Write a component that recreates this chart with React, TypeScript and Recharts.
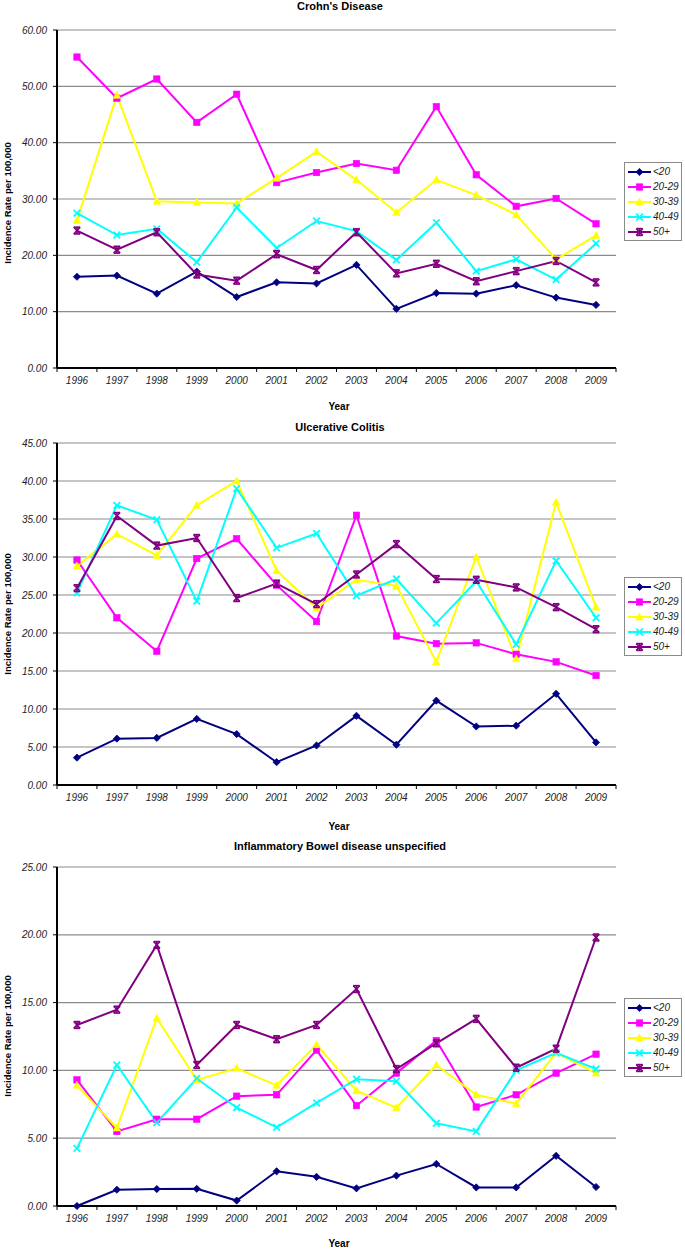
import React from 'react';
import { LineChart, Line, XAxis, YAxis, CartesianGrid, Legend } from 'recharts';

// ---------- data ----------
const years = ['1996', '1997', '1998', '1999', '2000', '2001', '2002', '2003', '2004', '2005', '2006', '2007', '2008', '2009'];
const seriesNames = ['<20', '20-29', '30-39', '40-49', '50+'];

const crohnU20 = [16.2, 16.4, 13.2, 17.1, 12.6, 15.2, 15.0, 18.3, 10.5, 13.3, 13.2, 14.7, 12.5, 11.2];
const crohn20 = [55.2, 47.9, 51.3, 43.6, 48.6, 32.9, 34.7, 36.3, 35.1, 46.4, 34.3, 28.7, 30.1, 25.6];
const crohn30 = [26.2, 48.4, 29.6, 29.4, 29.2, 33.7, 38.4, 33.4, 27.6, 33.4, 30.7, 27.2, 19.3, 23.5];
const crohn40 = [27.5, 23.6, 24.7, 18.8, 28.5, 21.3, 26.1, 24.3, 19.2, 25.8, 17.2, 19.3, 15.7, 22.1];
const crohn50 = [24.4, 21.0, 24.1, 16.6, 15.5, 20.2, 17.4, 24.1, 16.8, 18.5, 15.4, 17.2, 19.0, 15.2];

const ucU20 = [3.6, 6.1, 6.2, 8.7, 6.7, 3.0, 5.2, 9.1, 5.3, 11.1, 7.7, 7.8, 12.0, 5.6];
const uc20 = [29.6, 22.0, 17.6, 29.8, 32.4, 26.3, 21.5, 35.5, 19.6, 18.6, 18.7, 17.2, 16.2, 14.4];
const uc30 = [28.8, 33.0, 30.2, 36.8, 40.0, 28.2, 23.3, 27.0, 26.2, 16.2, 30.0, 16.6, 37.2, 23.4];
const uc40 = [25.3, 36.8, 34.9, 24.2, 39.0, 31.2, 33.1, 24.9, 27.1, 21.3, 26.8, 18.5, 29.5, 22.0];
const uc50 = [25.9, 35.4, 31.5, 32.5, 24.6, 26.5, 23.8, 27.7, 31.7, 27.1, 27.0, 26.0, 23.4, 20.5];

const ibdU20 = [0.0, 1.2, 1.25, 1.27, 0.4, 2.56, 2.15, 1.3, 2.24, 3.1, 1.37, 1.37, 3.7, 1.4];
const ibd20 = [9.3, 5.5, 6.4, 6.4, 8.1, 8.2, 11.5, 7.4, 9.8, 12.2, 7.3, 8.2, 9.8, 11.2];
const ibd30 = [8.9, 5.75, 13.85, 9.3, 10.15, 8.9, 11.9, 8.5, 7.25, 10.4, 8.2, 7.55, 11.3, 9.8];
const ibd40 = [4.25, 10.4, 6.15, 9.4, 7.25, 5.8, 7.6, 9.35, 9.2, 6.1, 5.5, 10.0, 11.3, 10.1];
const ibd50 = [13.35, 14.48, 19.25, 10.4, 13.35, 12.3, 13.35, 16.0, 10.1, 12.0, 13.8, 10.2, 11.6, 19.8];

const crohnTicks = [0, 10, 20, 30, 40, 50, 60];
const ucTicks = [0, 5, 10, 15, 20, 25, 30, 35, 40, 45];
const ibdTicks = [0, 5, 10, 15, 20, 25];

const titles = ["Crohn's Disease", 'Ulcerative Colitis', 'Inflammatory Bowel disease unspecified'];
const xTitle = 'Year';
const yTitle = 'Incidence Rate per 100,000';

// ---------- styles ----------
const FONT = '"Liberation Sans", Arial, sans-serif';
const COLORS = ['#000080', '#FF00FF', '#FFFF00', '#00FFFF', '#800080'];
const SHAPES = ['diamond', 'square', 'triangle', 'x', 'star'];
const KEYS = ['s0', 's1', 's2', 's3', 's4'];

const CHART_W = 685;
const PLOT_LEFT = 57;
const PLOT_RIGHT = 616;
const LEGEND_W = 59;
const BAND_HALF = (PLOT_RIGHT - PLOT_LEFT) / years.length / 2;

function buildRows(series: number[][]) {
  return years.map((y, i) => {
    const row: any = { year: y };
    series.forEach((s, k) => {
      row[KEYS[k]] = s[i];
    });
    return row;
  });
}

const Marker = ({ cx, cy, shape, color }: any) => {
  if (cx == null || cy == null) return null;
  switch (shape) {
    case 'diamond':
      return <path d={`M${cx},${cy - 3.6} L${cx + 3.6},${cy} L${cx},${cy + 3.6} L${cx - 3.6},${cy} Z`} fill={color} stroke={color} strokeWidth={0.8} />;
    case 'square':
      return <rect x={cx - 3.2} y={cy - 3.2} width={6.4} height={6.4} fill={color} stroke={color} strokeWidth={0.6} />;
    case 'triangle':
      return <path d={`M${cx},${cy - 4} L${cx + 3.8},${cy + 3} L${cx - 3.8},${cy + 3} Z`} fill={color} stroke={color} strokeWidth={0.6} />;
    case 'x':
      return (
        <g stroke={color} strokeWidth={1.8}>
          <line x1={cx - 3.3} y1={cy - 3.3} x2={cx + 3.3} y2={cy + 3.3} />
          <line x1={cx - 3.3} y1={cy + 3.3} x2={cx + 3.3} y2={cy - 3.3} />
        </g>
      );
    default:
      return (
        <g stroke={color} strokeWidth={1.6}>
          <line x1={cx - 3.2} y1={cy - 3.4} x2={cx + 3.2} y2={cy + 3.4} />
          <line x1={cx - 3.2} y1={cy + 3.4} x2={cx + 3.2} y2={cy - 3.4} />
          <line x1={cx - 3.2} y1={cy - 3.4} x2={cx + 3.2} y2={cy - 3.4} />
          <line x1={cx - 3.2} y1={cy + 3.4} x2={cx + 3.2} y2={cy + 3.4} />
          <line x1={cx} y1={cy - 3.4} x2={cx} y2={cy + 3.4} />
        </g>
      );
  }
};

const XTick = (props: any) => {
  const { x, y, payload } = props;
  const last = payload.value === years[years.length - 1];
  return (
    <g>
      <line x1={x - BAND_HALF} y1={y} x2={x - BAND_HALF} y2={y + 4} stroke="#000" strokeWidth={1} />
      {last && <line x1={x + BAND_HALF} y1={y} x2={x + BAND_HALF} y2={y + 4} stroke="#000" strokeWidth={1} />}
      <text x={x} y={y + 16} textAnchor="middle" fontFamily={FONT} fontSize={10} fontStyle="italic" fill="#222">
        {payload.value}
      </text>
    </g>
  );
};

const LegendBox = () => (
  <div
    style={{
      width: LEGEND_W - 1,
      boxSizing: 'border-box',
      border: '1px solid #8a8a8a',
      background: '#fff',
      padding: '1px 0 1px 3px',
      fontFamily: FONT,
    }}
  >
    {seriesNames.map((name, k) => (
      <div key={name} style={{ display: 'flex', alignItems: 'center', height: 15 }}>
        <svg width={23} height={12} style={{ display: 'block' }}>
          <line x1={0} y1={6} x2={23} y2={6} stroke={COLORS[k]} strokeWidth={2} />
          <Marker cx={11.5} cy={6} shape={SHAPES[k]} color={COLORS[k]} />
        </svg>
        <span style={{ fontSize: 10, fontStyle: 'italic', marginLeft: 2, color: '#222' }}>{name}</span>
      </div>
    ))}
  </div>
);

type PanelProps = {
  top: number;
  height: number;
  marginTop: number;
  marginBottom: number;
  legendTop: number;
  rows: any[];
  ticks: number[];
};

const Panel = ({ top, height, marginTop, marginBottom, legendTop, rows, ticks }: PanelProps) => {
  const maxY = ticks[ticks.length - 1];
  return (
    <div style={{ position: 'absolute', left: 0, top, width: CHART_W, height }}>
      <LineChart
        width={CHART_W}
        height={height}
        data={rows}
        margin={{ top: marginTop, right: CHART_W - PLOT_RIGHT - LEGEND_W, bottom: marginBottom, left: 12 }}
      >
        <CartesianGrid vertical={false} stroke="#8c8c8c" strokeWidth={1.2} />
        <XAxis
          dataKey="year"
          type="category"
          height={20}
          padding={{ left: BAND_HALF, right: BAND_HALF }}
          tickSize={0}
          tickMargin={0}
          tickLine={false}
          axisLine={{ stroke: '#000', strokeWidth: 2 }}
          tick={<XTick />}
          interval={0}
        />
        <XAxis
          xAxisId="top"
          orientation="top"
          dataKey="year"
          height={0}
          padding={{ left: BAND_HALF, right: BAND_HALF }}
          tick={false}
          tickLine={false}
          axisLine={{ stroke: '#000', strokeWidth: 2 }}
        />
        <YAxis
          width={45}
          domain={[0, maxY]}
          ticks={ticks}
          interval={0}
          tickSize={4}
          tickMargin={6}
          tickLine={{ stroke: '#000' }}
          axisLine={{ stroke: '#000', strokeWidth: 2 }}
          tickFormatter={(v: number) => v.toFixed(2)}
          tick={{ fontFamily: FONT, fontSize: 10, fontStyle: 'italic', fill: '#222' }}
        />
        <YAxis
          yAxisId="right"
          orientation="right"
          width={0}
          domain={[0, maxY]}
          tick={false}
          tickLine={false}
          axisLine={{ stroke: '#000', strokeWidth: 2 }}
        />
        <Legend
          layout="vertical"
          align="right"
          verticalAlign="middle"
          content={() => <LegendBox />}
          wrapperStyle={{ left: 624, top: legendTop, width: LEGEND_W, right: 'auto', bottom: 'auto' }}
        />
        {KEYS.map((k, i) => (
          <Line
            key={k}
            dataKey={k}
            name={seriesNames[i]}
            stroke={COLORS[i]}
            strokeWidth={2}
            isAnimationActive={false}
            dot={(p: any) => <Marker key={`${k}-${p.index}`} cx={p.cx} cy={p.cy} shape={SHAPES[i]} color={COLORS[i]} />}
            activeDot={false}
          />
        ))}
      </LineChart>
    </div>
  );
};

const Text = ({ x, y, children, size, bold, rotate }: any) => (
  <div
    style={{
      position: 'absolute',
      left: x - 200,
      top: y - 8,
      width: 400,
      height: 16,
      lineHeight: '16px',
      textAlign: 'center',
      fontFamily: FONT,
      fontSize: size,
      fontWeight: bold ? 'bold' : 'normal',
      color: '#000',
      whiteSpace: 'nowrap',
      transform: rotate ? 'rotate(-90deg)' : undefined,
    }}
  >
    {children}
  </div>
);

export default function App() {
  const panels = [
    { top: 0, height: 400, marginTop: 30, marginBottom: 12, legendTop: 162, rows: buildRows([crohnU20, crohn20, crohn30, crohn40, crohn50]), ticks: crohnTicks },
    { top: 415, height: 400, marginTop: 28, marginBottom: 10, legendTop: 162, rows: buildRows([ucU20, uc20, uc30, uc40, uc50]), ticks: ucTicks },
    { top: 840, height: 400, marginTop: 27, marginBottom: 14, legendTop: 158, rows: buildRows([ibdU20, ibd20, ibd30, ibd40, ibd50]), ticks: ibdTicks },
  ];
  const titleY = [6, 427, 846];
  const yearY = [407, 827, 1244];
  const yLabelY = [203, 614, 1036];
  return (
    <div style={{ position: 'absolute', left: 0, top: 0, width: 685, height: 1250, background: '#fff', overflow: 'hidden' }}>
      {panels.map((p, i) => (
        <Panel key={i} {...p} />
      ))}
      {titles.map((t, i) => (
        <Text key={`t${i}`} x={340} y={titleY[i]} size={11} bold>
          {t}
        </Text>
      ))}
      {yearY.map((y, i) => (
        <Text key={`y${i}`} x={339} y={y} size={10} bold>
          {xTitle}
        </Text>
      ))}
      {yLabelY.map((y, i) => (
        <Text key={`l${i}`} x={8} y={y} size={9.5} bold rotate>
          {yTitle}
        </Text>
      ))}
    </div>
  );
}
